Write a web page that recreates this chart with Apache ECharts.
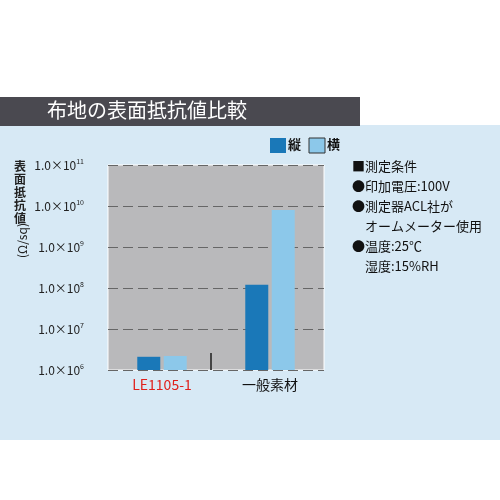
<!DOCTYPE html>
<html><head><meta charset="utf-8">
<script src="https://cdn.jsdelivr.net/npm/echarts@6/dist/echarts.min.js"></script>
<style>html,body{margin:0;background:#fff}#c{width:500px;height:500px}</style>
</head><body><div id="c"></div>
<script>
var categories = ['LE1105-1', '一般素材'];
var tateValues = [2.1e6, 1.2e8];
var yokoValues = [2.2e6, 8.0e9];
var tickExponents = [6, 7, 8, 9, 10, 11];
var notes = ['■測定条件', '●印加電圧:100V', '●測定器ACL社が', '　オームメーター使用', '●温度:25℃', '　湿度:15%RH'];

var chart = echarts.init(document.getElementById('c'));
var font = '"Noto Sans CJK JP", sans-serif';

var noteGraphics = notes.map(function (t, i) {
  return { type: 'text', left: 352, top: 160 + i * 20, style: { text: t, font: '13px ' + font, fill: '#111' } };
});

var option = {
  backgroundColor: '#fff',
  grid: { left: 108, right: 176, top: 165, bottom: 130, show: true, backgroundColor: '#b9b9bb', borderColor: '#fff', borderWidth: 1 },
  xAxis: {
    type: 'category', data: categories,
    axisLine: { show: false }, axisTick: { show: false },
    axisLabel: {
      margin: 8, fontSize: 14, fontFamily: font,
      color: function (v) { return v === 'LE1105-1' ? '#e0201c' : '#111'; }
    }
  },
  yAxis: {
    type: 'log', logBase: 10, min: 1e6, max: 1e11,
    axisLine: { show: false }, axisTick: { show: false },
    splitLine: { show: true, lineStyle: { color: '#666', type: [10, 5], width: 1.2 } },
    axisLabel: {
      margin: 24, fontFamily: font,
      formatter: function (v) {
        var e = Math.round(Math.log10(v));
        if (tickExponents.indexOf(e) < 0) return '';
        return '{b|1.0×10}{s|' + e + '}';
      },
      rich: {
        b: { fontSize: 12, color: '#222', fontFamily: font },
        s: { fontSize: 7, color: '#222', verticalAlign: 'top', padding: [0, 0, 8, 0] }
      }
    }
  },
  series: [
    { name: '縦', type: 'bar', data: tateValues, barWidth: 23, barGap: '15%', itemStyle: { color: '#1a78b8' } },
    { name: '横', type: 'bar', data: yokoValues, barWidth: 23, itemStyle: { color: '#8cc8ea' } }
  ],
  graphic: [
    { type: 'rect', z: -10, shape: { x: 0, y: 125, width: 500, height: 315 }, style: { fill: '#d7e9f5' } },
    { type: 'rect', z: -5, shape: { x: 0, y: 97, width: 360, height: 29 }, style: { fill: '#4a4950' } },
    { type: 'text', left: 47, top: 100, style: { text: '布地の表面抵抗値比較', font: '20px ' + font, fill: '#fff' } },
    { type: 'rect', shape: { x: 270, y: 138, width: 16, height: 15 }, style: { fill: '#1a78b8' } },
    { type: 'text', left: 288, top: 138, style: { text: '縦', font: 'bold 13px ' + font, fill: '#111' } },
    { type: 'rect', shape: { x: 309, y: 138, width: 16, height: 15 }, style: { fill: '#8cc8ea', stroke: '#333', lineWidth: 1 } },
    { type: 'text', left: 327, top: 138, style: { text: '横', font: 'bold 13px ' + font, fill: '#111' } },
    { type: 'text', left: 14, top: 160, style: { text: '表\n面\n抵\n抗\n値', font: 'bold 12px ' + font, fill: '#222', lineHeight: 13 } },
    { type: 'text', x: 16, y: 258, rotation: Math.PI / 2, style: { text: '(Ω/sq)', font: '12px ' + font, fill: '#222' } },
    { type: 'line', shape: { x1: 211, y1: 353, x2: 211, y2: 370 }, style: { stroke: '#444', lineWidth: 2 } }
  ].concat(noteGraphics)
};
chart.setOption(option);
</script></body></html>
